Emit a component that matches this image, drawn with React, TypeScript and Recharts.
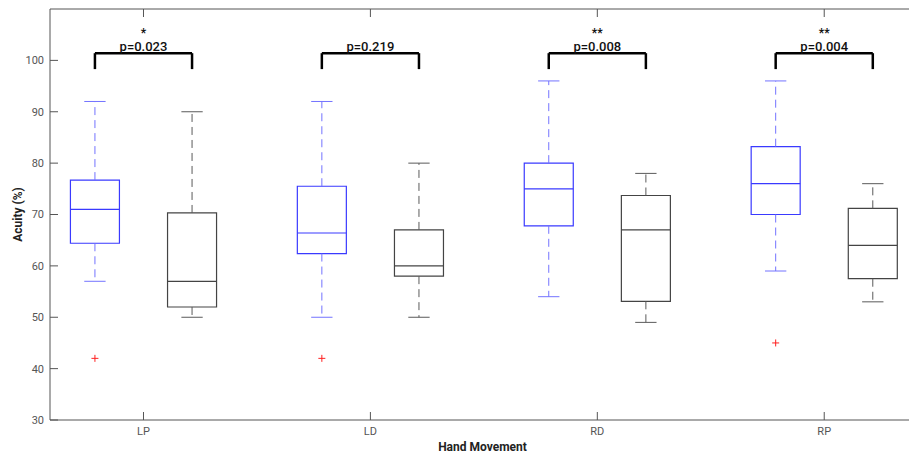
import React from "react";
import {
  ComposedChart,
  ReferenceArea,
  ReferenceLine,
  Scatter,
  XAxis,
  YAxis
} from "recharts";

const categories = ["LP", "LD", "RD", "RP"];

// blue group (left box of each pair)
const blueMin = [57, 50, 54, 59];
const blueQ1 = [64.4, 62.4, 67.8, 70];
const blueMedian = [71, 66.4, 75, 76];
const blueQ3 = [76.7, 75.5, 80, 83.2];
const blueMax = [92, 92, 96, 96];
const blueOutliers = [42, 42, null, 45];

// black group (right box of each pair)
const blackMin = [50, 50, 49, 53];
const blackQ1 = [52, 58, 53.1, 57.5];
const blackMedian = [57, 60, 67, 64];
const blackQ3 = [70.3, 67, 73.7, 71.2];
const blackMax = [90, 80, 78, 76];

const pLabels = ["p=0.023", "p=0.219", "p=0.008", "p=0.004"];
const stars = ["*", "", "**", "**"];
const bracketLow = 98.3;
const bracketHigh = 101.4;

const yTicks = [30, 40, 50, 60, 70, 80, 90, 100];

const OFFSET = 0.214;
const HALF_BOX = 0.108;
const HALF_CAP = 0.047;

const BLUE = "#3a3aff";
const BLUE_WHISKER = "#7373ff";
const GREY = "#444444";
const GREY_WHISKER = "#5a5a5a";
const AXIS = "#555555";
const FONT = "Roboto, 'Liberation Sans', Arial, sans-serif";

interface BoxStat {
  x: number;
  min: number;
  q1: number;
  median: number;
  q3: number;
  max: number;
  color: string;
  whisker: string;
}

const boxes: BoxStat[] = [];
categories.forEach((_, i) => {
  boxes.push({
    x: i + 1 - OFFSET,
    min: blueMin[i],
    q1: blueQ1[i],
    median: blueMedian[i],
    q3: blueQ3[i],
    max: blueMax[i],
    color: BLUE,
    whisker: BLUE_WHISKER
  });
  boxes.push({
    x: i + 1 + OFFSET,
    min: blackMin[i],
    q1: blackQ1[i],
    median: blackMedian[i],
    q3: blackQ3[i],
    max: blackMax[i],
    color: GREY,
    whisker: GREY_WHISKER
  });
});

const outlierData = blueOutliers
  .map((v, i) => (v === null ? null : { x: i + 1 - OFFSET, y: v }))
  .filter(Boolean) as { x: number; y: number }[];

const labelData = categories.map((_, i) => ({
  x: i + 1,
  y: bracketHigh,
  p: pLabels[i],
  star: stars[i]
}));

const PlusShape = (props: any) => {
  const { cx, cy } = props;
  return (
    <path
      d={`M${cx - 3.5},${cy}H${cx + 3.5}M${cx},${cy - 3.5}V${cy + 3.5}`}
      stroke="#ff2020"
      strokeWidth={1}
      fill="none"
    />
  );
};

const PLabel = (props: any) => {
  const { cx, cy, payload } = props;
  return (
    <g>
      <text
        x={cx}
        y={cy - 2}
        textAnchor="middle"
        fontFamily={FONT}
        fontSize={13}
        fontWeight={500}
        fill="#111"
      >
        {payload.p}
      </text>
      {payload.star ? (
        <text
          x={cx}
          y={cy - 16}
          textAnchor="middle"
          fontFamily={FONT}
          fontSize={12}
          fontWeight={700}
          fill="#111"
        >
          {payload.star}
        </text>
      ) : null}
    </g>
  );
};

export default function App() {
  return (
    <div
      style={{
        position: "absolute",
        left: 0,
        top: 0,
        width: 909,
        height: 454,
        overflow: "hidden",
        background: "#fff"
      }}
    >
      <ComposedChart
        width={920}
        height={454}
        margin={{ top: 0, right: 5, bottom: 0, left: 0 }}
      >
        <XAxis
          xAxisId="top"
          orientation="top"
          type="number"
          dataKey="x"
          domain={[0.588, 4.4]}
          ticks={[1, 2, 3, 4]}
          tickFormatter={() => ""}
          height={9}
          tickSize={-8}
          stroke={AXIS}
          allowDataOverflow
        />
        <XAxis
          xAxisId="main"
          type="number"
          dataKey="x"
          domain={[0.588, 4.4]}
          ticks={[1, 2, 3, 4]}
          tickFormatter={(v: number) => categories[v - 1]}
          height={34}
          tickSize={-8}
          tickMargin={15}
          stroke={AXIS}
          tick={{ fill: "#555", fontSize: 11, fontFamily: FONT }}
          allowDataOverflow
          label={{
            value: "Hand Movement",
            position: "insideBottom",
            offset: 3,
            fill: "#222",
            fontSize: 12,
            fontWeight: 700,
            fontFamily: FONT
          }}
        />
        <YAxis
          type="number"
          domain={[30, 110]}
          ticks={yTicks}
          width={50}
          tickSize={-8}
          tickMargin={14}
          stroke={AXIS}
          tick={{ fill: "#555", fontSize: 11, fontFamily: FONT }}
          allowDataOverflow
          label={{
            value: "Acuity (%)",
            angle: -90,
            position: "insideLeft",
            offset: 18,
            fill: "#222",
            fontSize: 12,
            fontWeight: 700,
            fontFamily: FONT,
            style: { textAnchor: "middle" }
          }}
        />

        {boxes.map((b, i) => (
          <ReferenceLine
            key={`wu${i}`}
            xAxisId="main"
            segment={[
              { x: b.x, y: b.q3 },
              { x: b.x, y: b.max }
            ]}
            stroke={b.whisker}
            strokeDasharray="8 5"
          />
        ))}
        {boxes.map((b, i) => (
          <ReferenceLine
            key={`wl${i}`}
            xAxisId="main"
            segment={[
              { x: b.x, y: b.q1 },
              { x: b.x, y: b.min }
            ]}
            stroke={b.whisker}
            strokeDasharray="8 5"
          />
        ))}
        {boxes.map((b, i) => (
          <ReferenceLine
            key={`cu${i}`}
            xAxisId="main"
            segment={[
              { x: b.x - HALF_CAP, y: b.max },
              { x: b.x + HALF_CAP, y: b.max }
            ]}
            stroke={b.whisker}
          />
        ))}
        {boxes.map((b, i) => (
          <ReferenceLine
            key={`cl${i}`}
            xAxisId="main"
            segment={[
              { x: b.x - HALF_CAP, y: b.min },
              { x: b.x + HALF_CAP, y: b.min }
            ]}
            stroke={b.whisker}
          />
        ))}
        {boxes.map((b, i) => (
          <ReferenceArea
            key={`bx${i}`}
            xAxisId="main"
            x1={b.x - HALF_BOX}
            x2={b.x + HALF_BOX}
            y1={b.q1}
            y2={b.q3}
            fill="none"
            fillOpacity={0}
            stroke={b.color}
            strokeWidth={1.2}
            strokeOpacity={1}
          />
        ))}
        {boxes.map((b, i) => (
          <ReferenceLine
            key={`md${i}`}
            xAxisId="main"
            segment={[
              { x: b.x - HALF_BOX, y: b.median },
              { x: b.x + HALF_BOX, y: b.median }
            ]}
            stroke={b.color}
            strokeWidth={1.2}
          />
        ))}

        {categories.map((c, i) => (
          <ReferenceLine
            key={`bl${c}`}
            xAxisId="main"
            segment={[
              { x: i + 1 - OFFSET, y: bracketLow },
              { x: i + 1 - OFFSET, y: bracketHigh }
            ]}
            stroke="#000"
            strokeWidth={2.5}
          />
        ))}
        {categories.map((c, i) => (
          <ReferenceLine
            key={`bh${c}`}
            xAxisId="main"
            segment={[
              { x: i + 1 - OFFSET, y: bracketHigh },
              { x: i + 1 + OFFSET, y: bracketHigh }
            ]}
            stroke="#000"
            strokeWidth={2.5}
          />
        ))}
        {categories.map((c, i) => (
          <ReferenceLine
            key={`br${c}`}
            xAxisId="main"
            segment={[
              { x: i + 1 + OFFSET, y: bracketLow },
              { x: i + 1 + OFFSET, y: bracketHigh }
            ]}
            stroke="#000"
            strokeWidth={2.5}
          />
        ))}

        <Scatter
          xAxisId="main"
          data={outlierData}
          dataKey="y"
          shape={PlusShape}
          isAnimationActive={false}
        />
        <Scatter
          xAxisId="main"
          data={labelData}
          dataKey="y"
          shape={PLabel}
          isAnimationActive={false}
        />
      </ComposedChart>
    </div>
  );
}
